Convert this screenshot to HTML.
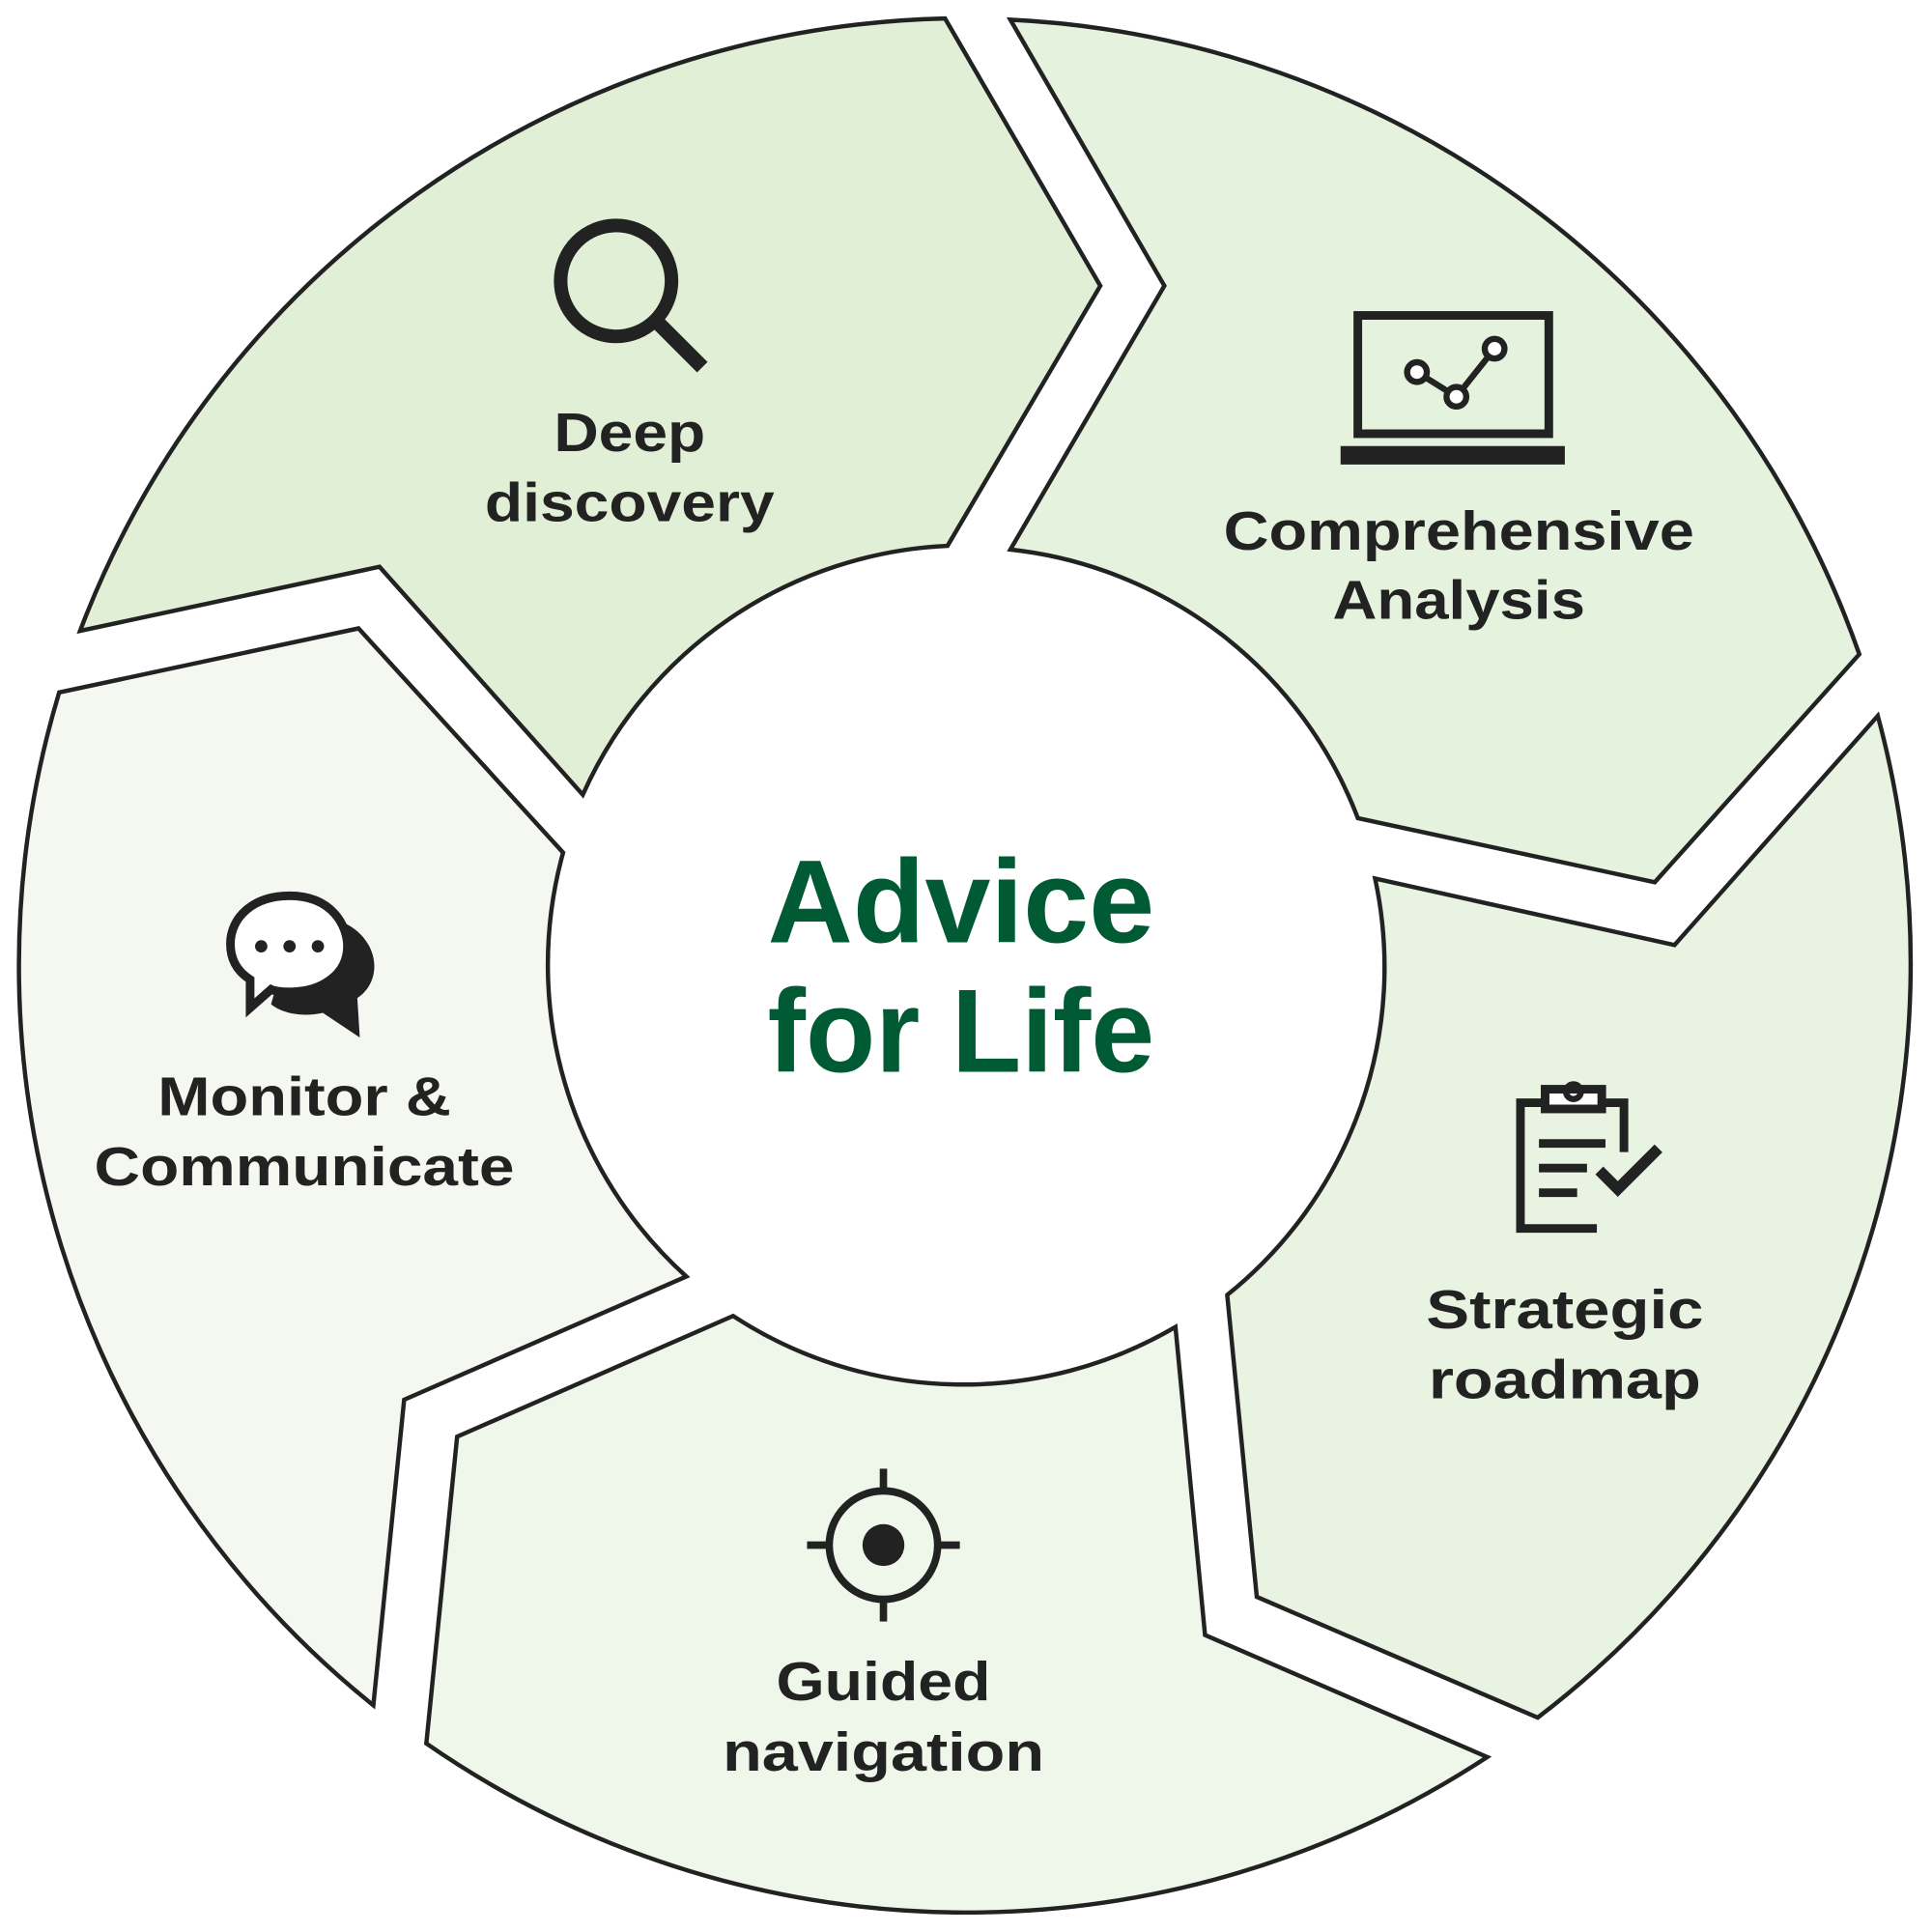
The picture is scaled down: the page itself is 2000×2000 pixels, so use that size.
<!DOCTYPE html>
<html><head><meta charset="utf-8"><style>
html,body{margin:0;padding:0;background:#fff}
svg{display:block}
text{font-family:"Liberation Sans",sans-serif;font-weight:bold}
</style></head><body>
<svg width="2000" height="2000" viewBox="0 0 1568 1568" xmlns="http://www.w3.org/2000/svg">
<g stroke="#222" stroke-width="3.5" stroke-linejoin="miter">
<path fill="#e0efd5" d="M65,512 A770,770 0 0 1 767,15 L893,232 L769,443 A341,341 0 0 0 473,645 L308,460 Z"/>
<path fill="#e5f2dd" d="M820,16 A770,770 0 0 1 1509,531 L1343,716 L1102,664 A341,341 0 0 0 820,446 L945,232 Z"/>
<path fill="#e8f3e1" d="M1524,581 A770,770 0 0 1 1248,1394 L1020,1296 L996,1051 A341,341 0 0 0 1116,713 L1359,767 Z"/>
<path fill="#eff7eb" d="M1207,1426 A770,770 0 0 1 346,1415 L371,1166 L595,1068 A341,341 0 0 0 954,1077 L978,1327 Z"/>
<path fill="#f4f8f1" d="M303,1384 A770,770 0 0 1 48,562 L291,510 L457,692 A341,341 0 0 0 557,1036 L328,1136 Z"/>
</g>
<g fill="#005a33" text-anchor="middle" font-size="96">
<text x="780" y="765" textLength="314" lengthAdjust="spacingAndGlyphs">Advice</text>
<text x="780" y="870" textLength="314" lengthAdjust="spacingAndGlyphs">for Life</text>
</g>
<g fill="#222" text-anchor="middle" font-size="44" lengthAdjust="spacingAndGlyphs">
<text x="511" y="366" textLength="123" lengthAdjust="spacingAndGlyphs">Deep</text>
<text x="511" y="423" textLength="235" lengthAdjust="spacingAndGlyphs">discovery</text>
<text x="1184" y="446" textLength="382" lengthAdjust="spacingAndGlyphs">Comprehensive</text>
<text x="1184" y="502" textLength="205" lengthAdjust="spacingAndGlyphs">Analysis</text>
<text x="1270" y="1078" textLength="225" lengthAdjust="spacingAndGlyphs">Strategic</text>
<text x="1270" y="1135" textLength="221" lengthAdjust="spacingAndGlyphs">roadmap</text>
<text x="717" y="1380" textLength="174" lengthAdjust="spacingAndGlyphs">Guided</text>
<text x="717" y="1437" textLength="261" lengthAdjust="spacingAndGlyphs">navigation</text>
<text x="247" y="905" textLength="238" lengthAdjust="spacingAndGlyphs">Monitor &amp;</text>
<text x="247" y="962" textLength="341" lengthAdjust="spacingAndGlyphs">Communicate</text>
</g>
<g stroke="#222" fill="none">
<circle cx="500" cy="228" r="45" stroke-width="11"/>
<line x1="532" y1="260" x2="570" y2="298" stroke-width="12"/>
</g>
<g stroke="#222" fill="none" stroke-width="7">
<rect x="1102" y="256" width="155" height="96"/>
<polyline points="1150,302 1182,322 1213,283" stroke-width="5"/>
</g>
<rect x="1088" y="362" width="182" height="15" fill="#222"/>
<g fill="#fff" stroke="#222" stroke-width="5">
<circle cx="1150" cy="302" r="8"/><circle cx="1182" cy="322" r="8"/><circle cx="1213" cy="283" r="8"/>
</g>
<g stroke="#222" fill="none" stroke-width="7">
<path d="M1296,997 H1234 V895 H1318 V935"/>
<rect x="1254" y="884" width="46" height="16" fill="#fff"/>
<circle cx="1277" cy="886" r="6" stroke-width="5"/>
<line x1="1249" y1="928" x2="1303" y2="928"/>
<line x1="1249" y1="948" x2="1288" y2="948"/>
<line x1="1249" y1="968" x2="1280" y2="968"/>
<polyline points="1298,950 1313,965 1346,932" stroke-width="9"/>
</g>
<g stroke="#222" fill="none" stroke-width="6">
<circle cx="717" cy="1254" r="44"/>
<line x1="717" y1="1192" x2="717" y2="1210"/>
<line x1="717" y1="1298" x2="717" y2="1316"/>
<line x1="655" y1="1254" x2="673" y2="1254"/>
<line x1="761" y1="1254" x2="779" y2="1254"/>
</g>
<circle cx="717" cy="1254" r="17" fill="#222"/>
<path fill="#222" d="M240,745 C300,735 320,790 290,810 L292,842 L262,822 C245,826 228,822 220,815 Z"/>
<path fill="#fff" stroke="#222" stroke-width="7" d="M235,727 C270,727 282,752 282,768 C282,790 262,805 235,805 C228,805 222,804 220,803 L203,818 L203,795 C192,788 187,778 187,766 C187,745 205,727 235,727 Z"/>
<g fill="#222"><circle cx="212" cy="768" r="5"/><circle cx="235" cy="768" r="5"/><circle cx="258" cy="768" r="5"/></g>
</svg>
</body></html>
